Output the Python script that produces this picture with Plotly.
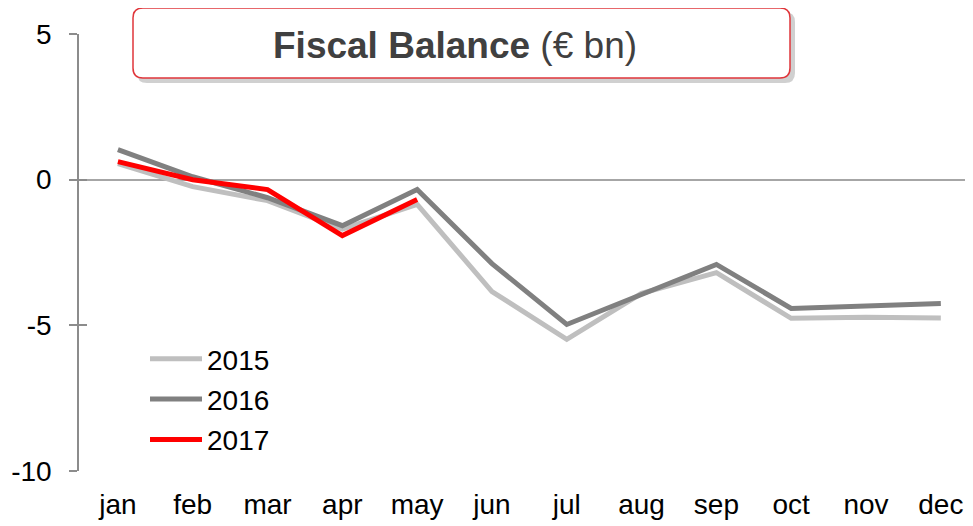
import plotly.graph_objects as go

months = ["jan", "feb", "mar", "apr", "may", "jun", "jul", "aug", "sep", "oct", "nov", "dec"]
fb_2015 = [0.55, -0.24, -0.72, -1.7, -0.85, -3.84, -5.48, -3.9, -3.19, -4.76, -4.72, -4.75]
fb_2016 = [1.03, 0.1, -0.62, -1.58, -0.34, -2.88, -4.97, -3.95, -2.91, -4.42, -4.33, -4.25]
fb_2017 = [0.62, 0.0, -0.34, -1.92, -0.68]
y_ticks = [5, 0, -5, -10]
y_tick_text = ["5", "0", "-5", "-10"]

# page body has an 8px margin; figure is sized/placed to compensate
OFF = 8
W, H = 973 - OFF, 526 - OFF
ML, MR, MT, MB = 79 - OFF, 0, 34 - OFF, 55
pw, ph = W - ML - MR, H - MT - MB

def px(x):
    # reference-screen pixel x -> paper coordinate
    return (x - OFF - ML) / pw

def py(y):
    # reference-screen pixel y -> paper coordinate
    return (H - MB - (y - OFF)) / ph

fig = go.Figure()
series = [("2015", fb_2015, "#BFBFBF"), ("2016", fb_2016, "#808080"), ("2017", fb_2017, "#FF0000")]
for name, vals, col in series:
    fig.add_trace(go.Scatter(x=months[:len(vals)], y=vals, name=name, mode="lines",
                             line=dict(color=col, width=5), legendgroup=name))

# invisible trace on yaxis2 for inside ticks (cross ticks)
fig.add_trace(go.Scatter(x=[months[0]], y=[0], yaxis="y2", mode="lines",
                         showlegend=False, hoverinfo="skip", line=dict(width=0)))

def rounded(x0, y0, x1, y1, r):
    pts = [
        f"M {px(x0 + r)},{py(y0)}",
        f"L {px(x1 - r)},{py(y0)}",
        f"Q {px(x1)},{py(y0)} {px(x1)},{py(y0 + r)}",
        f"L {px(x1)},{py(y1 - r)}",
        f"Q {px(x1)},{py(y1)} {px(x1 - r)},{py(y1)}",
        f"L {px(x0 + r)},{py(y1)}",
        f"Q {px(x0)},{py(y1)} {px(x0)},{py(y1 - r)}",
        f"L {px(x0)},{py(y0 + r)}",
        f"Q {px(x0)},{py(y0)} {px(x0 + r)},{py(y0)}",
        "Z",
    ]
    return " ".join(pts)

shapes = [
    dict(type="path", xref="paper", yref="paper", path=rounded(137, 12, 795, 83, 10),
         fillcolor="rgba(120,120,120,0.35)", line=dict(width=0), layer="above"),
    dict(type="path", xref="paper", yref="paper", path=rounded(133, 8, 790, 78, 10),
         fillcolor="white", line=dict(color="#E0363B", width=1.5), layer="above"),
]

fig.update_layout(
    width=W, height=H,
    margin=dict(l=ML, r=MR, t=MT, b=MB, autoexpand=False),
    paper_bgcolor="white", plot_bgcolor="white",
    font=dict(family="Liberation Sans, Arial, sans-serif", size=28, color="#000000"),
    showlegend=True,
    legend=dict(x=px(145), y=py(334), xanchor="left", yanchor="top",
                bgcolor="rgba(0,0,0,0)", font=dict(size=28, color="#000000"),
                tracegroupgap=1, itemwidth=52),
    xaxis=dict(type="category", categoryorder="array", categoryarray=months,
               range=[-0.52, 11.43], showline=False, showgrid=False, zeroline=False,
               ticks="", ticklabelstandoff=14, tickfont=dict(size=28), automargin=False),
    yaxis=dict(range=[-10, 5], tickvals=y_ticks, ticktext=y_tick_text, showgrid=False,
               showline=True, linecolor="#8C8C8C", linewidth=1.5,
               ticks="outside", ticklen=8, tickcolor="#8C8C8C", tickwidth=1.5,
               zeroline=True, zerolinecolor="#A6A6A6", zerolinewidth=1.5,
               ticklabelstandoff=12, tickfont=dict(size=28), automargin=False),
    yaxis2=dict(range=[-10, 5], overlaying="y", side="left", tickvals=y_ticks,
                showticklabels=False, showgrid=False, showline=False, zeroline=False,
                ticks="inside", ticklen=8, tickcolor="#8C8C8C", tickwidth=1.5,
                automargin=False),
    shapes=shapes,
    annotations=[dict(xref="paper", yref="paper", x=px(455), y=py(45),
                      text="<b>Fiscal Balance</b> (€ bn)", showarrow=False,
                      font=dict(size=37, color="#404040"),
                      xanchor="center", yanchor="middle")],
)

fig.write_html("out.html")
